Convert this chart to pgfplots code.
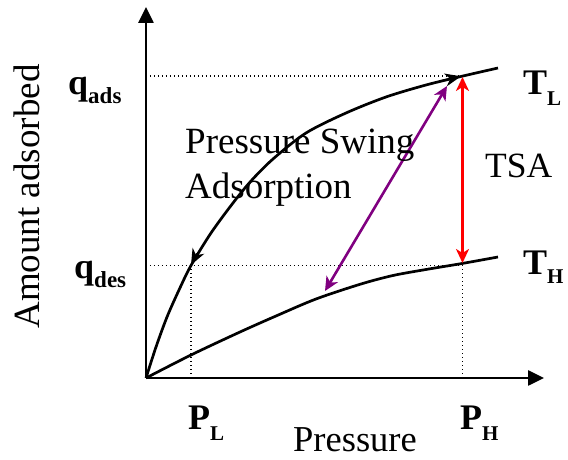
\documentclass[border=0pt]{standalone}
\usepackage{pgfplots}
\pgfplotsset{compat=1.18}
\usepackage{fontspec}
\setmainfont{Liberation Serif}
\usetikzlibrary{arrows.meta}
\definecolor{purp}{RGB}{128,0,128}
\newcommand{\lab}[4]{{\bfseries\fontsize{36}{40}\selectfont #1\raisebox{#3}{\fontsize{#4}{#4}\selectfont #2}}}
\begin{document}
\begin{tikzpicture}
\begin{axis}[x=1pt,y=1pt,xmin=0,xmax=398,ymin=0,ymax=371,
  axis lines=left, ticks=none, clip=false,
  axis line style={line width=2.6pt,-{Triangle[length=16pt,width=15pt]}}]
\path (-146,-82) rectangle (422,378);
% dotted guides
\addplot[black,line width=1.4pt,dash pattern=on 1.4pt off 2.6pt] coordinates {(0,302)(314,302)};
\addplot[black,line width=1.4pt,dash pattern=on 1.4pt off 2.6pt] coordinates {(0,112.5)(316.5,112.5)};
\addplot[black,line width=1.4pt,dash pattern=on 1.4pt off 2.6pt] coordinates {(45,0)(45,112.5)};
\addplot[black,line width=1.4pt,dash pattern=on 1.4pt off 2.6pt] coordinates {(316.5,0)(316.5,114)};
% T_L isotherm
\addplot[black,line width=2.7pt,smooth] coordinates {(0,0)(10,31)(21,61)(33,88)(45,112.5)(65,145)(87,175)(105,197)(127,219)(160,245)(200,265)(240,281)(280,293)(317,302)(352,310)};
% T_H isotherm
\addplot[black,line width=2.7pt,smooth] coordinates {(0,0)(45,23)(94,46)(130,62)(170,79)(215,94)(247,102.5)(280,108.5)(316,114.5)(352,121)};
% direction arrows on T_L
\addplot[black,line width=1.8pt,-{Stealth[length=16pt,width=13pt,inset=5pt]}] coordinates {(296,297.3)(315,301.7)};
\addplot[black,line width=1.8pt,-{Stealth[length=16pt,width=13pt,inset=5pt]}] coordinates {(51,124.5)(45,113)};
% PSA and TSA arrows
\addplot[purp,line width=2.6pt,{Stealth[length=14pt,width=13pt,inset=4pt]}-{Stealth[length=14pt,width=13pt,inset=4pt]}] coordinates {(179,87)(301,292)};
\addplot[red,line width=2.3pt,{Stealth[length=14pt,width=13pt,inset=4pt]}-{Stealth[length=14pt,width=13pt,inset=4pt]}] coordinates {(316.5,115)(316.5,301)};
% texts
\node[rotate=90,anchor=base,inner sep=0pt,font=\fontsize{37}{40}\selectfont] at (-106,181.5) {Amount adsorbed};
\node[anchor=base,inner sep=0pt,font=\fontsize{36.5}{40}\selectfont] at (209,-73.7) {Pressure};
\node[anchor=base west,inner sep=0pt,font=\fontsize{37}{40}\selectfont] at (39,224) {Pressure Swing};
\node[anchor=base west,inner sep=0pt,font=\fontsize{37}{40}\selectfont] at (39,179.7) {Adsorption};
\node[anchor=base west,inner sep=0pt,font=\fontsize{35.5}{40}\selectfont] at (339,200.7) {TSA};
\node[anchor=base west,inner sep=0pt] at (-78,283) {\lab{q}{ads}{-9pt}{23}};
\node[anchor=base west,inner sep=0pt] at (-72,99) {\lab{q}{des}{-9pt}{23}};
\node[anchor=base west,inner sep=0pt] at (377,283) {\lab{T}{L}{-11pt}{21}};
\node[anchor=base west,inner sep=0pt] at (377,103.7) {\lab{T}{H}{-9pt}{21}};
\node[anchor=base west,inner sep=0pt] at (42,-52) {\lab{P}{L}{-11pt}{21}};
\node[anchor=base west,inner sep=0pt] at (314,-52) {\lab{P}{H}{-11pt}{21}};
\end{axis}
\end{tikzpicture}
\end{document}
